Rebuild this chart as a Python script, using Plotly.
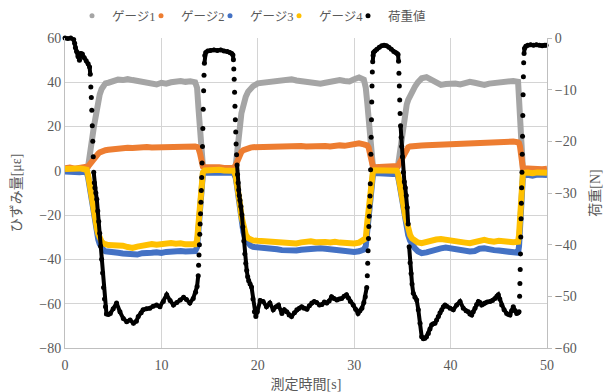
import plotly.graph_objects as go

# ---------------- data ----------------
gauge_time = [
    0, 0.5, 1.0, 1.5, 2.0, 2.25,
    2.4, 2.55, 2.7, 2.85, 3.0, 3.15, 3.3, 3.45, 3.6, 3.8, 4.0, 4.2, 4.5,
    5.0, 5.5, 6.0, 6.5, 7.0, 7.5, 8.0, 8.5, 9.0, 9.5, 10.0, 10.5, 11.0, 11.5, 12.0, 12.5, 13.0, 13.5,
    13.7, 13.85, 14.0, 14.15, 14.3, 14.5,
    15.0, 15.5, 16.0, 16.5, 17.0, 17.5,
    17.7, 17.85, 18.0, 18.15, 18.3, 18.5, 18.75, 19.0, 19.25, 19.5,
    20.0, 20.5, 21.0, 21.5, 22.0, 22.5, 23.0, 23.5, 24.0, 24.5, 25.0, 25.5, 26.0, 26.5, 27.0, 27.5,
    28.0, 28.5, 29.0, 29.5, 30.0, 30.5, 31.0,
    31.2, 31.35, 31.5, 31.65, 31.8, 31.95, 32.1,
    32.5, 33.0, 33.5, 34.0, 34.4,
    34.55, 34.7, 34.85, 35.0, 35.15, 35.3, 35.45, 35.6, 35.8, 36.0, 36.3, 36.6, 37.0,
    37.5, 38.0, 38.5, 39.0, 39.5, 40.0, 40.5, 41.0, 41.5, 42.0, 42.5, 43.0, 43.5, 44.0, 44.5, 45.0,
    45.5, 46.0, 46.5, 47.0,
    47.1, 47.2, 47.3, 47.4, 47.5,
    48.0, 48.5, 49.0, 49.5, 50.0,
]

gauge1 = [
    0.5, 0.8, 0.4, 0.7, 0.6, 1.0,
    2.0, 5.5, 10.5, 15.5, 20.0, 24.5, 28.5, 32.0, 34.5, 37.0, 38.5, 39.5, 39.8,
    40.8, 41.2, 41.0, 41.5, 41.0, 40.6, 40.2, 39.8, 39.5, 39.0, 39.8, 39.4, 40.0, 40.4, 40.6, 40.2, 40.5, 40.0,
    37.5, 28.0, 17.0, 8.0, 2.5, 0.8,
    0.6, 0.9, 0.5, 0.8, 0.6, 0.9,
    2.0, 6.5, 12.0, 20.0, 26.0, 30.5, 33.5, 35.8, 37.2, 38.2,
    39.5, 39.8, 40.0, 39.8, 40.4, 40.6, 41.0, 41.4, 40.8, 40.4, 40.6, 40.0, 39.6, 39.4, 39.8, 40.2,
    40.8, 41.0, 40.6, 40.4, 41.4, 42.2, 41.2,
    37.5, 31.0, 24.0, 15.5, 6.5, 1.5, 0.8,
    0.6, 0.9, 0.5, 0.8, 0.9,
    2.5, 7.5, 14.0, 19.5, 23.5, 27.0, 30.0, 32.0, 34.0, 35.8, 38.0, 40.0, 41.8,
    42.3, 41.0, 39.6, 38.8, 39.2, 39.6, 39.4, 39.0, 39.4, 40.2, 39.8, 39.0, 38.8, 39.4, 39.6, 40.2,
    40.0, 40.8, 40.6, 40.2,
    33.5, 24.0, 13.0, 3.0, 0.8,
    0.2, 0.5, 0.1, 0.4, 0.2,
]

gauge2 = [
    1.2, 1.5, 1.0, 1.4, 1.2, 1.5,
    2.0, 2.8, 3.8, 4.8, 5.7, 6.5, 7.2, 7.8, 8.3, 8.8, 9.0, 9.3, 9.5,
    9.8, 10.0, 10.2, 10.4, 10.3, 10.6, 10.5, 10.8, 10.6, 10.7, 10.9, 10.8, 10.7, 11.0, 10.9, 11.1, 10.9, 11.0,
    10.8, 10.2, 8.0, 4.5, 2.0, 1.6,
    1.8, 1.4, 1.6, 1.3, 1.5, 1.4,
    2.5, 4.5, 6.2, 7.6, 8.6, 9.3, 9.9, 10.2, 10.5, 10.7,
    10.8, 11.0, 10.9, 11.1, 11.0, 11.2, 11.0, 11.3, 11.1, 11.2, 11.0, 11.2, 11.1, 11.3, 11.2, 11.0,
    11.4, 11.5, 11.3, 11.6, 12.0, 12.4, 12.0,
    11.8, 11.5, 10.5, 7.0, 3.5, 1.8, 1.6,
    1.7, 1.5, 1.8, 1.4, 1.5,
    2.2, 3.4, 4.8, 6.2, 7.6, 9.0, 10.0, 10.6, 11.0, 11.2, 11.3, 11.4, 11.5,
    11.6, 11.7, 11.6, 11.8, 12.0, 12.2, 12.1, 12.3, 12.2, 12.4, 12.5, 12.3, 12.6, 12.5, 12.7, 12.8,
    12.9, 13.1, 13.2, 12.9,
    12.5, 11.0, 6.0, 1.8, 1.2,
    1.1, 0.8, 1.0, 0.7, 0.9,
]

gauge3 = [
    -0.3, -0.5, -0.2, -0.6, -0.4, -0.6,
    -3.0, -7.5, -12.0, -16.5, -21.0, -25.0, -28.5, -31.0, -33.0, -34.8, -35.8, -36.3, -36.6,
    -36.8, -37.0, -37.3, -37.6, -38.0, -37.8, -37.2, -37.4, -37.0, -36.8, -37.1, -36.6, -36.3, -36.5, -36.2, -36.4, -36.0, -36.2,
    -34.5, -27.0, -15.0, -5.5, -1.5, -0.8,
    -0.7, -1.0, -0.6, -0.9, -0.7, -1.0,
    -3.0, -7.0, -11.5, -17.0, -22.5, -27.5, -31.0, -32.5, -33.8, -34.3,
    -34.5, -34.8, -34.4, -35.0, -35.4, -35.8, -36.0, -35.7, -36.0, -35.6, -35.4, -35.0, -35.3, -35.0, -35.2, -35.5,
    -35.2, -35.6, -36.0, -36.4, -36.6, -36.3, -35.5,
    -34.0, -27.0, -19.0, -11.0, -4.5, -1.5, -1.0,
    -1.2, -1.5, -1.1, -1.4, -1.2,
    -2.5, -6.0, -10.0, -14.5, -18.5, -22.5, -26.0, -29.0, -31.5, -33.5, -35.0, -36.3, -37.2,
    -36.8, -36.0, -35.6, -35.0, -34.6, -35.0, -35.4, -35.8, -36.0, -36.4, -36.2, -35.2, -35.0, -35.6, -35.8, -36.0,
    -36.2, -36.5, -36.8, -37.0,
    -34.0, -25.0, -14.0, -5.5, -2.2,
    -1.8, -2.2, -1.7, -2.0, -1.9,
]

gauge4 = [
    0.8, 1.0, 0.6, 1.1, 0.7, 0.5,
    -2.0, -6.5, -10.5, -14.5, -18.5, -22.5, -25.8, -28.5, -30.5, -32.0, -32.8, -33.3, -33.5,
    -33.6, -33.4, -33.8, -34.4, -34.8, -34.2, -33.6, -33.2, -33.0, -33.4, -33.0, -32.8, -32.6, -32.9, -32.7, -33.2, -33.5, -33.2,
    -31.5, -24.0, -13.0, -4.5, -0.8, 0.2,
    0.4, 0.1, 0.5, 0.2, 0.4, 0.1,
    -2.0, -5.5, -10.0, -15.0, -20.5, -25.5, -28.8, -30.4, -31.0, -31.4,
    -31.6, -31.8, -31.5, -32.0, -32.4, -32.7, -32.8, -32.5, -32.8, -32.3, -32.0, -31.8, -32.2, -31.9, -32.1, -32.3,
    -32.0, -32.4, -32.7, -32.9, -32.8, -32.4, -31.4,
    -30.5, -23.5, -16.0, -8.5, -2.5, 0.0, 0.3,
    0.2, -0.1, 0.3, -0.2, 0.1,
    -1.5, -4.5, -8.5, -12.5, -16.5, -20.5, -23.5, -26.5, -29.0, -30.5, -31.8, -32.3, -32.7,
    -32.0, -31.2, -31.0, -30.8, -31.0, -31.2, -31.6, -32.0, -32.4, -32.7, -32.2, -31.4, -31.2, -31.7, -32.0, -31.6,
    -31.5, -32.0, -32.2, -32.0,
    -29.0, -20.0, -11.0, -3.5, -1.0,
    -0.8, -1.1, -0.7, -1.0, -0.9,
]

load_time = [
    0, 0.3, 0.6, 0.9, 1.0, 1.08, 1.2, 1.35, 1.5, 1.65, 1.8, 2.0, 2.2, 2.4, 2.55,
    2.62, 2.68, 2.73, 2.78, 2.83, 2.88, 2.93, 2.98, 3.04,
    3.1, 3.2, 3.3, 3.4, 3.5, 3.6, 3.7, 3.8, 3.9, 4.0, 4.1, 4.2, 4.3,
    4.5, 4.7, 5.0, 5.35, 5.7, 6.05, 6.4, 6.75, 7.1, 7.4, 7.6, 7.9, 8.1, 8.45, 8.8, 9.15, 9.5, 9.85,
    10.2, 10.55, 10.9, 11.25, 11.6, 11.95, 12.3, 12.6, 12.95, 13.3, 13.55, 13.7,
    13.82, 13.86, 13.9, 13.94, 13.98, 14.02, 14.06, 14.1, 14.14, 14.18, 14.22, 14.26, 14.3, 14.34,
    14.38, 14.42, 14.46, 14.5,
    14.6, 14.8, 15.1, 15.45, 15.8, 16.15, 16.5, 16.85, 17.1, 17.3, 17.42,
    17.47, 17.51, 17.55, 17.59, 17.63, 17.67, 17.71, 17.75, 17.8, 17.85, 17.9, 17.96, 18.02, 18.08, 18.15,
    18.25, 18.35, 18.45, 18.55, 18.65, 18.75, 18.85, 18.95, 19.05, 19.2, 19.35, 19.5, 19.65, 19.8,
    19.95, 20.25, 20.55, 20.9, 21.25, 21.6, 21.9, 22.15, 22.5, 22.75, 23.0, 23.25, 23.5, 23.8, 24.05,
    24.3, 24.55, 24.8, 25.1, 25.35, 25.6, 25.85, 26.1, 26.4, 26.65, 26.9, 27.15, 27.4, 27.65, 27.9,
    28.2, 28.45, 28.7, 28.95, 29.2, 29.4, 29.6, 29.9, 30.15, 30.4, 30.6, 30.8, 31.0, 31.15, 31.3,
    31.36, 31.4, 31.44, 31.48, 31.52, 31.56, 31.6, 31.64, 31.67, 31.7, 31.73, 31.76, 31.79, 31.82,
    31.85, 31.88, 31.92, 31.96, 32.0,
    32.15, 32.35, 32.6, 32.85, 33.1, 33.35, 33.6, 33.85, 34.1, 34.3, 34.45, 34.55,
    34.6, 34.64, 34.68, 34.72, 34.76, 34.81, 34.87, 34.93, 35.0, 35.1, 35.2, 35.3, 35.4, 35.5, 35.6,
    35.7, 35.8, 35.9, 36.0, 36.13,
    36.3, 36.48, 36.65, 36.83, 37.0, 37.17, 37.34, 37.5, 37.69, 37.86, 38.04, 38.2, 38.38, 38.55,
    38.73, 38.9, 39.08, 39.25, 39.42, 39.6, 39.94, 40.28, 40.63, 40.98, 41.32, 41.6, 41.84, 42.0,
    42.19, 42.35, 42.53, 42.7, 42.88, 43.05, 43.22, 43.4, 43.57, 43.8, 44.09, 44.35, 44.6, 44.8,
    44.95, 45.1, 45.3, 45.55, 45.82, 46.0, 46.16, 46.33, 46.5, 46.7, 46.86, 47.0, 47.1,
    47.16, 47.19, 47.22, 47.25, 47.28, 47.31, 47.34, 47.37, 47.4, 47.43, 47.46, 47.49, 47.52, 47.55,
    47.58, 47.62, 47.67,
    47.8, 48.0, 48.3, 48.6, 48.9, 49.2, 49.5, 49.75, 49.9,
]

load_value = [
    0, -0.1, 0, -0.3, -1.0, -1.9, -2.6, -3.6, -4.3, -3.0, -3.1, -3.8, -4.4, -5.0, -5.6,
    -7.0, -9.5, -11.5, -14.0, -17.0, -20.0, -23.0, -26.0, -28.0,
    -29.0, -30.0, -31.2, -33.5, -35.5, -37.8, -40.3, -42.8, -45.5, -48.3, -50.5, -52.0, -53.4,
    -53.5, -53.3, -52.4, -51.3, -53.0, -54.3, -54.9, -54.6, -55.2, -54.8, -53.9, -53.2, -52.6, -52.4, -52.3, -51.9, -51.7, -52.0,
    -51.0, -49.7, -50.8, -51.7, -51.2, -50.7, -50.2, -50.6, -51.3, -50.4, -49.2, -48.1,
    -46.0, -44.0, -42.0, -40.0, -38.0, -36.0, -34.0, -31.8, -29.5, -27.0, -24.2, -21.0, -17.5, -13.8,
    -10.2, -7.2, -4.9, -3.4,
    -2.8, -2.5, -2.4, -2.3, -2.4, -2.3, -2.5, -2.6, -2.8, -3.0, -3.3,
    -4.2, -6.0, -8.0, -10.5, -13.2, -15.8, -18.2, -20.5, -22.6, -24.6, -26.4, -28.0, -29.4, -30.5, -31.4,
    -32.6, -34.2, -36.6, -39.3, -41.8, -43.6, -45.0, -46.2, -47.0, -47.6, -48.2, -50.5, -53.0, -53.9,
    -53.0, -50.8, -51.0, -52.0, -51.3, -52.6, -52.0, -51.7, -53.3, -52.6, -53.0, -53.6, -53.9, -53.2, -52.6,
    -52.3, -52.0, -52.3, -52.5, -51.8, -51.3, -51.0, -51.2, -51.7, -51.6, -51.1, -51.3, -50.9, -50.1, -50.4,
    -50.7, -50.5, -50.4, -50.0, -49.7, -50.3, -51.0, -51.7, -52.5, -53.3, -52.8, -52.3, -51.2, -50.1, -48.3,
    -46.0, -43.6, -41.2, -38.8, -36.5, -34.5, -32.6, -30.6, -28.2, -25.5, -22.5, -19.2, -15.8, -12.4,
    -9.3, -6.6, -4.6, -3.4, -2.8,
    -2.5, -2.2, -1.8, -1.5, -1.4, -1.5, -1.8, -2.2, -2.6, -2.8, -3.0, -3.2,
    -4.5, -6.8, -9.3, -12.0, -14.6, -17.0, -19.2, -21.0, -23.0, -26.0, -27.8, -29.0, -30.5, -32.8, -36.0,
    -40.4, -43.5, -45.6, -47.6, -49.4,
    -50.2, -50.7, -52.6, -55.2, -57.8, -58.2, -58.1, -57.8, -57.2, -56.3, -55.5, -55.3, -55.2, -54.6,
    -53.9, -53.2, -52.6, -52.0, -51.7, -51.9, -52.3, -52.6, -51.7, -51.0, -52.3, -52.8, -53.0, -53.4,
    -53.6, -53.0, -52.3, -51.6, -51.0, -51.2, -51.7, -51.5, -51.3, -51.1, -51.0, -50.8, -50.4, -50.0,
    -49.7, -50.5, -51.7, -52.6, -53.3, -53.5, -53.6, -52.8, -52.0, -52.8, -53.3, -53.2, -53.0,
    -50.0, -47.5, -44.8, -41.8, -38.5, -35.0, -32.0, -29.0, -26.0, -22.5, -19.0, -15.0, -11.0, -7.5,
    -4.8, -3.0, -2.0,
    -1.6, -1.4, -1.3, -1.4, -1.3, -1.4, -1.5, -1.4, -1.4,
]

series_names = ["ゲージ1", "ゲージ2", "ゲージ3", "ゲージ4", "荷重値"]
series_colors = ["#A5A5A5", "#ED7D31", "#4472C4", "#FFC000", "#000000"]

x_ticks = [0, 10, 20, 30, 40, 50]
strain_ticks = [-80, -60, -40, -20, 0, 20, 40, 60]
load_ticks = [-60, -50, -40, -30, -20, -10, 0]

assert len(gauge_time) == len(gauge1) == len(gauge2) == len(gauge3) == len(gauge4)
assert len(load_time) == len(load_value)

# ---------------- figure ----------------
FONT = "'Liberation Serif', 'Noto Sans CJK JP', serif"
TXT = "#595959"
PLOT_L, PLOT_R = 65, 547

fig = go.Figure()

for name, col, vals in zip(series_names[:4], series_colors[:4], [gauge1, gauge2, gauge3, gauge4]):
    fig.add_trace(go.Scatter(
        x=gauge_time, y=vals, mode="lines", name=name, showlegend=False,
        line=dict(color=col, width=6), hoverinfo="skip", cliponaxis=False))

# continuous part of the load curve (gentle slopes) as a thick line
lt, lv = [], []
for i in range(len(load_time)):
    if i > 0:
        slope = abs(load_value[i] - load_value[i - 1]) / (load_time[i] - load_time[i - 1])
        if slope > 38:
            lt.append(None)
            lv.append(None)
    lt.append(load_time[i])
    lv.append(load_value[i])

fig.add_trace(go.Scatter(
    x=lt, y=lv, mode="lines", yaxis="y2", showlegend=False, connectgaps=False,
    line=dict(color="#000000", width=4), hoverinfo="skip", cliponaxis=False))
fig.add_trace(go.Scatter(
    x=load_time, y=load_value, mode="markers", yaxis="y2", showlegend=False,
    marker=dict(color="#000000", size=5), hoverinfo="skip", cliponaxis=False))

# legend entries: one small legend per series so that the row is compact like the reference
legend_left_px = [85, 154, 223, 292, 361]
legend_layout = {}
for k, (name, col, lx) in enumerate(zip(series_names, series_colors, legend_left_px)):
    key = "legend" if k == 0 else f"legend{k + 1}"
    fig.add_trace(go.Scatter(
        x=[None], y=[None], mode="markers", name=name, legend=key,
        marker=dict(color=col, size=5)))
    legend_layout[key] = dict(
        orientation="h", x=(lx - PLOT_L) / (PLOT_R - PLOT_L), xanchor="left",
        y=1 + (38 - 16) / 310, yanchor="middle", indentation=-13,
        font=dict(family=FONT, size=12.5, color=TXT), bgcolor="rgba(0,0,0,0)",
    )

fig.update_layout(
    width=604, height=392,
    margin=dict(l=65, r=57, t=38, b=44, autoexpand=False),
    paper_bgcolor="white", plot_bgcolor="white",
    font=dict(family=FONT, size=14, color=TXT),
    showlegend=True,
    xaxis=dict(
        range=[0, 50], tickvals=x_ticks, showgrid=True, gridcolor="#d4d4d4", gridwidth=1,
        showline=True, linecolor="#bfbfbf", linewidth=1, zeroline=False, ticks="",
        tickfont=dict(family=FONT, size=14, color=TXT), ticklabelstandoff=4,
        title=dict(text="測定時間[s]", font=dict(family=FONT, size=14, color=TXT), standoff=7),
    ),
    yaxis=dict(
        range=[-80, 60], tickvals=strain_ticks, showgrid=True, gridcolor="#d4d4d4", gridwidth=1,
        showline=True, linecolor="#bfbfbf", linewidth=1, zeroline=False, ticks="",
        tickfont=dict(family=FONT, size=14, color=TXT),
        title=dict(text="ひずみ量[με]", font=dict(family=FONT, size=14, color=TXT), standoff=14),
    ),
    yaxis2=dict(
        range=[-60, 0], tickvals=load_ticks, overlaying="y", side="right", showgrid=False,
        showline=True, linecolor="#bfbfbf", linewidth=1, zeroline=False,
        ticks="outside", ticklen=4, tickcolor="#bfbfbf",
        tickfont=dict(family=FONT, size=14, color=TXT),
        title=dict(text="荷重[N]", font=dict(family=FONT, size=14, color=TXT), standoff=14),
    ),
    **legend_layout,
)

fig.write_html("out.html")
